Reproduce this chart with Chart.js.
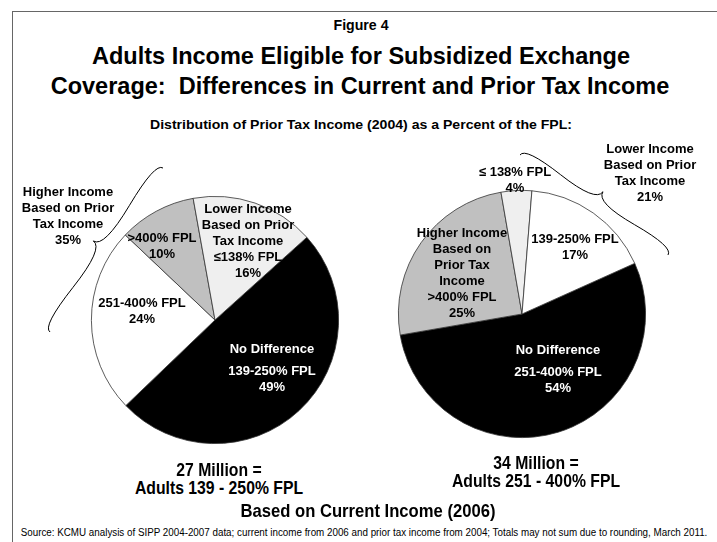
<!DOCTYPE html>
<html>
<head>
<meta charset="utf-8">
<script src="https://cdn.jsdelivr.net/npm/chart.js@4.4.0/dist/chart.umd.min.js"></script>
<style>
  html, body { margin: 0; padding: 0; background: #fff; }
  #page { position: relative; width: 717px; height: 542px; overflow: hidden; font-family: "Liberation Sans", Arial, sans-serif; color: #000; }
  #frame { position: absolute; left: 12px; top: 11px; width: 720px; height: 560px; border-left: 1px solid #666; border-top: 1px solid #666; }
  canvas { position: absolute; }
  .t { position: absolute; white-space: nowrap; font-weight: bold; transform-origin: 50% 50%; }
  .lbl { position: absolute; text-align: center; white-space: nowrap; font-weight: bold; font-size: 13px; line-height: 16px; transform: translateX(-50%); }
</style>
</head>
<body>
<div id="page">
  <div id="frame"></div>
  <canvas id="leftPie" width="358" height="320" style="left:0;top:140px;"></canvas>
  <canvas id="rightPie" width="359" height="320" style="left:358px;top:140px;"></canvas>
</div>
<script>
// Left pie: adults 139-250% FPL by current income
const leftLabels = ['No Difference 139-250% FPL', '251-400% FPL', '>400% FPL', '≤138% FPL'];
const leftValues = [49, 24, 10, 16];
const leftHigher = 35;
const leftTotal = '27 Million';

// Right pie: adults 251-400% FPL by current income
const rightLabels = ['No Difference 251-400% FPL', '>400% FPL', '≤ 138% FPL', '139-250% FPL'];
const rightValues = [54, 25, 4, 17];
const rightLower = 21;
const rightTotal = '34 Million';

const leftColors = ['#000000', '#ffffff', '#c0c0c0', '#efefef'];
const rightColors = ['#000000', '#c0c0c0', '#efefef', '#ffffff'];

// curly brace between two points, tip pushed out by w
function drawBrace(ctx, x1, y1, x2, y2, w, q) {
    let dx = x1 - x2, dy = y1 - y2;
    const len = Math.sqrt(dx * dx + dy * dy);
    dx /= len; dy /= len;
    const qx1 = x1 + q * w * dy, qy1 = y1 - q * w * dx;
    const qx2 = (x1 - .25 * len * dx) + (1 - q) * w * dy, qy2 = (y1 - .25 * len * dy) - (1 - q) * w * dx;
    const tx = (x1 - .5 * len * dx) + w * dy, ty = (y1 - .5 * len * dy) - w * dx;
    const qx3 = x2 + q * w * dy, qy3 = y2 - q * w * dx;
    const qx4 = (x1 - .75 * len * dx) + (1 - q) * w * dy, qy4 = (y1 - .75 * len * dy) - (1 - q) * w * dx;
    ctx.beginPath();
    ctx.moveTo(x1, y1);
    ctx.quadraticCurveTo(qx1, qy1, qx2, qy2);
    ctx.quadraticCurveTo(2 * qx2 - qx1, 2 * qy2 - qy1, tx, ty);
    ctx.moveTo(x2, y2);
    ctx.quadraticCurveTo(qx3, qy3, qx4, qy4);
    ctx.quadraticCurveTo(2 * qx4 - qx3, 2 * qy4 - qy3, tx, ty);
    ctx.stroke();
}

const bracePlugin = {
    id: 'brace',
    afterDraw(chart, args, opts) {
        const ctx = chart.ctx;
        ctx.save();
        ctx.strokeStyle = '#000';
        ctx.lineWidth = 1;
        drawBrace(ctx, opts.x1, opts.y1, opts.x2, opts.y2, opts.w, 0.6);
        ctx.restore();
    }
};

function makePie(id, labels, values, colors, rotation, padding, brace) {
    return new Chart(document.getElementById(id), {
        type: 'pie',
        data: {
            labels: labels,
            datasets: [{
                data: values,
                backgroundColor: colors,
                borderColor: '#333',
                borderWidth: 0.8
            }]
        },
        options: {
            responsive: false,
            animation: false,
            devicePixelRatio: 1,
            rotation: rotation,
            layout: { padding: padding },
            plugins: {
                legend: { display: false },
                tooltip: { enabled: false },
                brace: brace
            }
        },
        plugins: [bracePlugin]
    });
}

makePie('leftPie', leftLabels, leftValues, leftColors, 48,
    { left: 91, right: 19, top: 56, bottom: 16 },
    { x1: 163, y1: 28, x2: 50, y2: 192, w: 16 });
makePie('rightPie', rightLabels, rightValues, rightColors, 65.8,
    { left: 40, right: 71, top: 50, bottom: 22 },
    { x1: 310, y1: 115, x2: 162, y2: 15, w: 16 });

const page = document.getElementById('page');
function esc(s) { return s.replace(/&/g, '&amp;').replace(/</g, '&lt;').replace(/>/g, '&gt;'); }

// headline texts: centre x, baseline y, font size, target width (narrow face imitated by scaleX)
const measure = document.createElement('canvas').getContext('2d');
function addText(text, cx, base, size, opts) {
    const weight = opts.normal ? 'normal' : 'bold';
    measure.font = weight + ' ' + size + 'px "Liberation Sans"';
    const natural = measure.measureText(text).width;
    const sx = opts.width ? opts.width / natural : (opts.scale || 1);
    const lh = Math.round(size * 1.2);
    const d = document.createElement('div');
    d.className = 't';
    d.style.fontSize = size + 'px';
    d.style.lineHeight = lh + 'px';
    d.style.fontWeight = weight;
    d.style.left = cx + 'px';
    d.style.top = (base - (lh - 1.117 * size) / 2 - 0.905 * size) + 'px';
    d.style.transform = 'translateX(-50%) scaleX(' + sx + ')';
    d.textContent = text;
    page.appendChild(d);
    return sx;
}

addText('Figure 4', 361, 30, 14, { width: 55 });
const ts = addText('Adults Income Eligible for Subsidized Exchange', 361, 64, 24, { width: 538 });
addText('Coverage:\u00a0 Differences in Current and Prior Tax Income', 360, 94, 24, { scale: ts });
addText('Distribution of Prior Tax Income (2004) as a Percent of the FPL:', 361, 129, 12, { width: 422 });
const bs = addText('Adults 139 - 250% FPL', 219, 494, 18, { width: 168 });
addText(leftTotal + ' =', 219, 476, 18, { scale: bs });
addText(rightTotal + ' =', 536, 469, 18, { scale: bs });
addText('Adults 251 - 400% FPL', 536, 487, 18, { scale: bs });
addText('Based on Current Income (2006)', 368, 517, 19, { scale: bs });
addText('Source: KCMU analysis of SIPP 2004-2007 data; current income from 2006 and prior tax income from 2004; Totals may not sum due to rounding, March 2011.', 363.5, 536, 10, { width: 687, normal: true });

// slice labels (page coords: centre x, first line centre y)
const labelLayout = [
    { x: 68, y: 192, lines: ['Higher Income', 'Based on Prior', 'Tax Income', leftHigher + '%'] },
    { x: 162, y: 238, lines: ['>400% FPL', leftValues[2] + '%'] },
    { x: 248, y: 209, lines: ['Lower Income', 'Based on Prior', 'Tax Income', '≤138% FPL', leftValues[3] + '%'] },
    { x: 142, y: 303, lines: ['251-400% FPL', leftValues[1] + '%'] },
    { x: 272, y: 349, lines: ['No Difference'], color: '#fff' },
    { x: 272, y: 371, lines: ['139-250% FPL', leftValues[0] + '%'], color: '#fff' },
    { x: 515, y: 172, lines: ['≤ 138% FPL', rightValues[2] + '%'] },
    { x: 650, y: 149, lines: ['Lower Income', 'Based on Prior', 'Tax Income', rightLower + '%'] },
    { x: 462, y: 233, lines: ['Higher Income', 'Based on', 'Prior Tax', 'Income', '>400% FPL', rightValues[1] + '%'] },
    { x: 575, y: 239, lines: ['139-250% FPL', rightValues[3] + '%'] },
    { x: 558, y: 350, lines: ['No Difference'], color: '#fff' },
    { x: 558, y: 372, lines: ['251-400% FPL', rightValues[0] + '%'], color: '#fff' }
];

labelLayout.forEach(l => {
    const d = document.createElement('div');
    d.className = 'lbl';
    d.style.left = l.x + 'px';
    d.style.top = (l.y - 8) + 'px';
    if (l.color) d.style.color = l.color;
    d.innerHTML = l.lines.map(esc).join('<br>');
    page.appendChild(d);
});
</script>
</body>
</html>
